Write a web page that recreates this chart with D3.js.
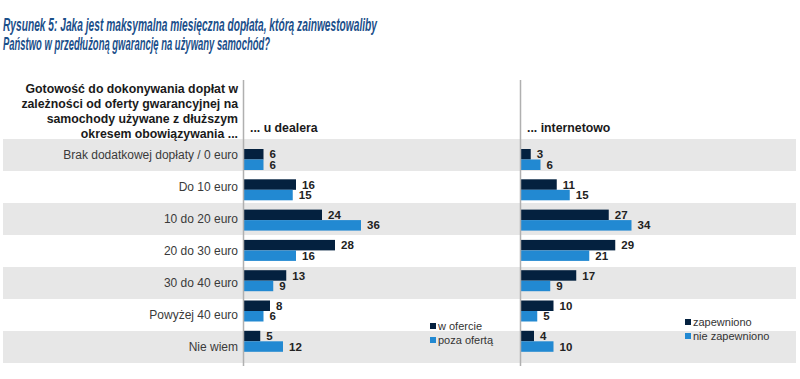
<!DOCTYPE html>
<html>
<head>
<meta charset="utf-8">
<script src="https://cdn.jsdelivr.net/npm/d3@7"></script>
<style>
  body { margin: 0; background: #fff; }
  svg { display: block; font-family: "Liberation Sans", Arial, sans-serif; }
</style>
</head>
<body>
<div id="chart"></div>
<script>
// data
var categories = ["Brak dodatkowej dopłaty / 0 euro", "Do 10 euro", "10 do 20 euro", "20 do 30 euro", "30 do 40 euro", "Powyżej 40 euro", "Nie wiem"];
var dealerInOffer = [6, 16, 24, 28, 13, 8, 5];
var dealerOutOffer = [6, 15, 36, 16, 9, 6, 12];
var onlineGuaranteed = [3, 11, 27, 29, 17, 10, 4];
var onlineNotGuaranteed = [6, 15, 34, 21, 9, 5, 10];
var dealerLegend = ["w ofercie", "poza ofertą"];
var onlineLegend = ["zapewniono", "nie zapewniono"];
var titleLines = ["Rysunek 5: Jaka jest maksymalna miesięczna dopłata, którą zainwestowaliby",
                  "Państwo w przedłużoną gwarancję na używany samochód?"];
var headerLines = ["Gotowość do dokonywania dopłat w", "zależności od oferty gwarancyjnej na",
                   "samochody używane z dłuższym", "okresem obowiązywania ..."];

var svgWidth = 800;
var svgHeight = 379;
var darkColor = "#04213f";
var lightColor = "#2289d2";

var svg = d3.select("#chart")
  .append("svg")
  .attr("width", svgWidth)
  .attr("height", svgHeight);

// title (condensed look, squeezed to the original width)
svg.selectAll(".title")
  .data(titleLines)
  .enter()
  .append("text")
  .attr("class", "title")
  .attr("x", 3)
  .attr("y", (d, i) => 31 + i * 19)
  .attr("textLength", (d, i) => i == 0 ? 374 : 267)
  .attr("lengthAdjust", "spacingAndGlyphs")
  .style("font-family", "'Liberation Sans Narrow', 'Liberation Sans', Arial, sans-serif")
  .style("font-size", "18px")
  .style("font-weight", "bold")
  .style("font-style", "italic")
  .style("fill", "#1b4f8a")
  .text(d => d);

// row bands
var yBand = d3.scaleBand()
  .domain(categories)
  .range([139, 363]);

svg.selectAll(".band")
  .data(categories.filter((d, i) => i % 2 == 0))
  .enter()
  .append("rect")
  .attr("x", 3)
  .attr("y", d => yBand(d))
  .attr("width", 793)
  .attr("height", yBand.bandwidth())
  .style("fill", "#e7e7e7");

// category labels
svg.selectAll(".cat")
  .data(categories)
  .enter()
  .append("text")
  .attr("x", 238)
  .attr("y", d => yBand(d) + yBand.bandwidth() / 2)
  .attr("dy", "0.35em")
  .attr("text-anchor", "end")
  .style("font-size", "12px")
  .style("fill", "#3a3a3a")
  .text(d => d);

// header at left
svg.selectAll(".head")
  .data(headerLines)
  .enter()
  .append("text")
  .attr("x", 238)
  .attr("y", (d, i) => 93 + i * 15)
  .attr("text-anchor", "end")
  .style("font-size", "12.3px")
  .style("font-weight", "bold")
  .style("fill", "#1a1a1a")
  .text(d => d);

// bar positions
var yBar = d3.scaleBand()
  .domain(categories)
  .range([149, 149 + 7 * 30.3]);
var barH = 10.5;

function drawPanel(x0, name, first, second, legend, legX, legY) {
  var xScale = d3.scaleLinear().domain([0, 40]).range([x0, x0 + 130]);
  var g = svg.append("g");

  g.append("text")
    .attr("x", x0 + 6)
    .attr("y", 132)
    .style("font-size", "12.3px")
    .style("font-weight", "bold")
    .style("fill", "#1a1a1a")
    .text(name);

  var series = [first, second];
  var colors = [darkColor, lightColor];
  series.forEach(function(vals, s) {
    g.selectAll(".bar" + s)
      .data(vals)
      .enter()
      .append("rect")
      .attr("x", xScale(0))
      .attr("y", (d, i) => yBar(categories[i]) + s * barH)
      .attr("width", d => xScale(d) - xScale(0))
      .attr("height", barH)
      .style("fill", colors[s]);

    g.selectAll(".lab" + s)
      .data(vals)
      .enter()
      .append("text")
      .attr("x", d => xScale(d) + 6)
      .attr("y", (d, i) => yBar(categories[i]) + s * barH + barH / 2)
      .attr("dy", "0.36em")
      .style("font-size", "11.5px")
      .style("font-weight", "bold")
      .style("fill", "#222")
      .text(d => d);
  });

  // axis line
  g.append("line")
    .attr("x1", x0 - 0.5)
    .attr("x2", x0 - 0.5)
    .attr("y1", 80)
    .attr("y2", 366)
    .style("stroke", "#b0b0b0")
    .style("stroke-width", 1.5);

  // legend
  legend.forEach(function(t, i) {
    g.append("rect")
      .attr("x", legX)
      .attr("y", legY + i * 14 - 3)
      .attr("width", 6)
      .attr("height", 6)
      .style("fill", colors[i]);
    g.append("text")
      .attr("x", legX + 8)
      .attr("y", legY + i * 14)
      .attr("dy", "0.35em")
      .style("font-size", "11px")
      .style("fill", "#333")
      .text(t);
  });
}

drawPanel(244, "... u dealera", dealerInOffer, dealerOutOffer, dealerLegend, 430, 326);
drawPanel(521, "... internetowo", onlineGuaranteed, onlineNotGuaranteed, onlineLegend, 685, 322);
</script>
</body>
</html>
